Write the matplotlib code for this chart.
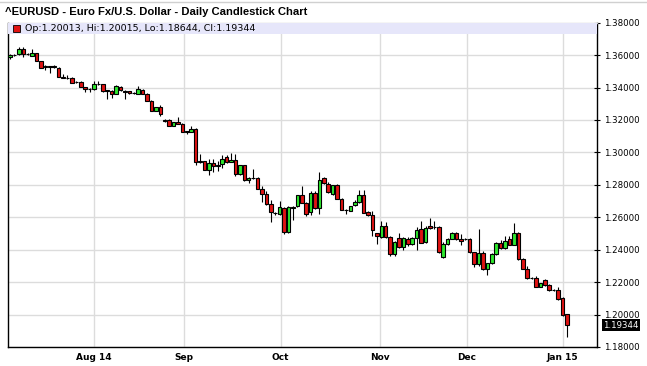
import numpy as np
import matplotlib
matplotlib.use("Agg")
import matplotlib.pyplot as plt
from matplotlib.patches import Rectangle
from matplotlib.lines import Line2D

# daily OHLC (Jul 2014 - Jan 2015)
opens = [1.3591, 1.3600, 1.3607, 1.3638, 1.3606, 1.3597, 1.3612, 1.3562, 1.3527, 1.3530,
         1.3528, 1.3521, 1.3466, 1.3462, 1.3460, 1.3432, 1.3435, 1.3402, 1.3390, 1.3390,
         1.3423, 1.3420, 1.3378, 1.3380, 1.3361, 1.3405, 1.3380, 1.3377, 1.3366, 1.3362,
         1.3388, 1.3361, 1.3320, 1.3258, 1.3283, 1.3202, 1.3200, 1.3166, 1.3189, 1.3177,
         1.3128, 1.3127, 1.3143, 1.2942, 1.2945, 1.2894, 1.2934, 1.2914, 1.2926, 1.2971,
         1.2942, 1.2955, 1.2865, 1.2920, 1.2828, 1.2845, 1.2844, 1.2777, 1.2746, 1.2684,
         1.2628, 1.2618, 1.2660, 1.2510, 1.2663, 1.2668, 1.2735, 1.2690, 1.2633, 1.2752,
         1.2657, 1.2840, 1.2808, 1.2742, 1.2797, 1.2715, 1.2647, 1.2639, 1.2674, 1.2694,
         1.2735, 1.2633, 1.2612, 1.2500, 1.2480, 1.2545, 1.2480, 1.2371, 1.2475, 1.2418,
         1.2469, 1.2438, 1.2475, 1.2530, 1.2448, 1.2546, 1.2540, 1.2540, 1.2356, 1.2438,
         1.2469, 1.2506, 1.2463, 1.2466, 1.2469, 1.2383, 1.2309, 1.2377, 1.2280, 1.2315,
         1.2371, 1.2444, 1.2411, 1.2469, 1.2432, 1.2506, 1.2342, 1.2284, 1.2224, 1.2227,
         1.2171, 1.2212, 1.2182, 1.2152, 1.2151, 1.2100, 1.20013]
highs = [1.3607, 1.3606, 1.3648, 1.3652, 1.3612, 1.3638, 1.3615, 1.3565, 1.3542, 1.3535,
         1.3540, 1.3525, 1.3484, 1.3480, 1.3465, 1.3438, 1.3438, 1.3405, 1.3398, 1.3439,
         1.3439, 1.3425, 1.3385, 1.3382, 1.3416, 1.3408, 1.3384, 1.3380, 1.3375, 1.3412,
         1.3392, 1.3364, 1.3323, 1.3282, 1.3295, 1.3205, 1.3205, 1.3190, 1.3217, 1.3180,
         1.3135, 1.3160, 1.3148, 1.2988, 1.2950, 1.2961, 1.2960, 1.2950, 1.2986, 1.2985,
         1.2996, 1.2992, 1.2925, 1.2925, 1.2848, 1.2900, 1.2850, 1.2790, 1.2760, 1.2709,
         1.2635, 1.2700, 1.2665, 1.2670, 1.2670, 1.2740, 1.2791, 1.2695, 1.2760, 1.2760,
         1.2879, 1.2848, 1.2815, 1.2802, 1.2807, 1.2720, 1.2652, 1.2672, 1.2705, 1.2770,
         1.2770, 1.2638, 1.2640, 1.2505, 1.2575, 1.2570, 1.2485, 1.2452, 1.2500, 1.2480,
         1.2478, 1.2480, 1.2540, 1.2575, 1.2545, 1.2596, 1.2575, 1.2545, 1.2445, 1.2475,
         1.2512, 1.2512, 1.2495, 1.2475, 1.2475, 1.2388, 1.2526, 1.2390, 1.2320, 1.2380,
         1.2450, 1.2460, 1.2485, 1.2485, 1.2567, 1.2512, 1.2350, 1.2300, 1.2230, 1.2235,
         1.2195, 1.2218, 1.2186, 1.2160, 1.2170, 1.2108, 1.20015]
lows = [1.3575, 1.3596, 1.3603, 1.3587, 1.3600, 1.3595, 1.3563, 1.3518, 1.3510, 1.3488,
        1.3520, 1.3465, 1.3458, 1.3455, 1.3428, 1.3428, 1.3403, 1.3371, 1.3371, 1.3388,
        1.3418, 1.3374, 1.3330, 1.3335, 1.3358, 1.3378, 1.3330, 1.3362, 1.3360, 1.3358,
        1.3358, 1.3318, 1.3255, 1.3255, 1.3222, 1.3190, 1.3163, 1.3163, 1.3174, 1.3124,
        1.3111, 1.3124, 1.2920, 1.2935, 1.2890, 1.2858, 1.2879, 1.2885, 1.2906, 1.2935,
        1.2938, 1.2852, 1.2860, 1.2825, 1.2811, 1.2838, 1.2774, 1.2694, 1.2675, 1.2571,
        1.2615, 1.2614, 1.2495, 1.2500, 1.2582, 1.2665, 1.2685, 1.2610, 1.2612, 1.2650,
        1.2623, 1.2808, 1.2752, 1.2738, 1.2710, 1.2642, 1.2620, 1.2636, 1.2670, 1.2690,
        1.2624, 1.2608, 1.2483, 1.2438, 1.2475, 1.2475, 1.2362, 1.2360, 1.2410, 1.2397,
        1.2420, 1.2430, 1.2397, 1.2440, 1.2440, 1.2530, 1.2530, 1.2380, 1.2350, 1.2430,
        1.2465, 1.2458, 1.2430, 1.2460, 1.2378, 1.2294, 1.2300, 1.2275, 1.2247, 1.2310,
        1.2365, 1.2405, 1.2405, 1.2428, 1.2428, 1.2338, 1.2280, 1.2220, 1.2218, 1.2168,
        1.2168, 1.2178, 1.2148, 1.2148, 1.2090, 1.1990, 1.18644]
closes = [1.3601, 1.3602, 1.3638, 1.3607, 1.3604, 1.3611, 1.3566, 1.3521, 1.3530, 1.3528,
          1.3530, 1.3468, 1.3462, 1.3460, 1.3431, 1.3434, 1.3406, 1.3390, 1.3393, 1.3423,
          1.3421, 1.3377, 1.3382, 1.3361, 1.3410, 1.3382, 1.3372, 1.3366, 1.3364, 1.3394,
          1.3361, 1.3320, 1.3258, 1.3279, 1.3238, 1.3194, 1.3166, 1.3187, 1.3177, 1.3127,
          1.3130, 1.3143, 1.2940, 1.2946, 1.2894, 1.2934, 1.2914, 1.2920, 1.2961, 1.2942,
          1.2955, 1.2865, 1.2920, 1.2828, 1.2844, 1.2842, 1.2777, 1.2746, 1.2680, 1.2631,
          1.2624, 1.2663, 1.2510, 1.2663, 1.2660, 1.2735, 1.2688, 1.2623, 1.2752, 1.2657,
          1.2832, 1.2812, 1.2756, 1.2797, 1.2715, 1.2647, 1.2645, 1.2668, 1.2694, 1.2735,
          1.2627, 1.2612, 1.2520, 1.2483, 1.2545, 1.2480, 1.2371, 1.2448, 1.2418, 1.2475,
          1.2438, 1.2475, 1.2524, 1.2444, 1.2534, 1.2536, 1.2538, 1.2386, 1.2438, 1.2469,
          1.2506, 1.2463, 1.2452, 1.2469, 1.2383, 1.2309, 1.2377, 1.2280, 1.2315, 1.2371,
          1.2444, 1.2411, 1.2452, 1.2432, 1.2506, 1.2342, 1.2284, 1.2223, 1.2226, 1.2171,
          1.2192, 1.2182, 1.2151, 1.2154, 1.2095, 1.1997, 1.19344]

month_idx = [19, 39.3, 61.2, 83.8, 103.3, 125]
month_labels = ["Aug 14", "Sep", "Oct", "Nov", "Dec", "Jan 15"]
y_ticks = [1.18, 1.20, 1.22, 1.24, 1.26, 1.28, 1.30, 1.32, 1.34, 1.36, 1.38]

title = "^EURUSD - Euro Fx/U.S. Dollar - Daily Candlestick Chart"

RED = "#e01212"
GREEN = "#2ee82e"
GRID = "#dcdcdc"

o = np.array(opens)
h = np.array(highs)
l = np.array(lows)
c = np.array(closes)
x = np.arange(len(o))

W, H = 647, 366
fig = plt.figure(figsize=(W / 100, H / 100), dpi=100)
ax = fig.add_axes([7.5 / W, 1 - 347 / H, (597 - 7.5) / W, (347 - 22.7) / H])

# grid
ax.set_xticks(month_idx)
ax.set_xticklabels(month_labels)
ax.set_yticks(y_ticks)
ax.set_yticklabels([f"{v:.5f}" for v in y_ticks])
ax.grid(True, color=GRID, linewidth=1.0)
ax.set_axisbelow(True)

# candles
up = c >= o
ax.vlines(x, l, h, color="black", linewidth=0.8, zorder=2)
body_lo = np.minimum(o, c)
body_h = np.abs(c - o)
ax.bar(x[up], body_h[up], bottom=body_lo[up], width=0.8,
       color=GREEN, edgecolor="black", linewidth=0.8, zorder=3)
ax.bar(x[~up], body_h[~up], bottom=body_lo[~up], width=0.8,
       color=RED, edgecolor="black", linewidth=0.8, zorder=3)

ax.set_xlim(-0.57, 132.8)
ax.set_ylim(1.18, 1.38)

# axes look
ax.yaxis.tick_right()
ax.tick_params(axis="y", direction="inout", length=4, width=0.8, pad=3.2,
               labelsize=6.2, colors="black")
ax.tick_params(axis="x", length=0, pad=4.6, labelsize=6.5)
for lbl in ax.get_xticklabels():
    lbl.set_fontweight("bold")
for side in ("left", "right", "bottom"):
    ax.spines[side].set_color("black")
    ax.spines[side].set_linewidth(1.0)
ax.spines["top"].set_color("#cccccc")
ax.spines["top"].set_linewidth(1.0)

# legend band along the top
band_h = 11.5 / (347 - 22.7)
ax.add_patch(Rectangle((0, 1 - band_h), 1, band_h, transform=ax.transAxes,
                       facecolor="#e6e6fa", edgecolor="none", zorder=4))
ax.add_patch(Rectangle((5.5 / 589.5, 1 - band_h + 2.2 / 324.3), 7 / 589.5, 7 / 324.3,
                       transform=ax.transAxes, facecolor=RED, edgecolor="black",
                       linewidth=0.6, zorder=5))
ax.text(17.5 / 589.5, 1 - band_h / 2,
        f"Op:{o[-1]:.5f}, Hi:{h[-1]:.5f}, Lo:{l[-1]:.5f}, Cl:{c[-1]:.5f}",
        transform=ax.transAxes, fontsize=6.8, va="center", ha="left", zorder=5)

# last price tag
ax.annotate(f"{c[-1]:.5f}", xy=(1, c[-1]), xycoords=ax.get_yaxis_transform(),
            xytext=(4.6, 0), textcoords="offset points", ha="left", va="center",
            fontsize=6.2, color="white",
            bbox=dict(boxstyle="square,pad=0.15", facecolor="black", edgecolor="none"))

fig.text(5 / W, 1 - 12 / H, title, fontsize=8.1, fontweight="bold",
         family="Liberation Sans", va="center", ha="left")
fig.add_artist(Line2D([0, 1], [1 - 1.5 / H] * 2, transform=fig.transFigure,
                      color="#d0d0d0", linewidth=1.0))

fig.savefig("out.png", dpi=100)
